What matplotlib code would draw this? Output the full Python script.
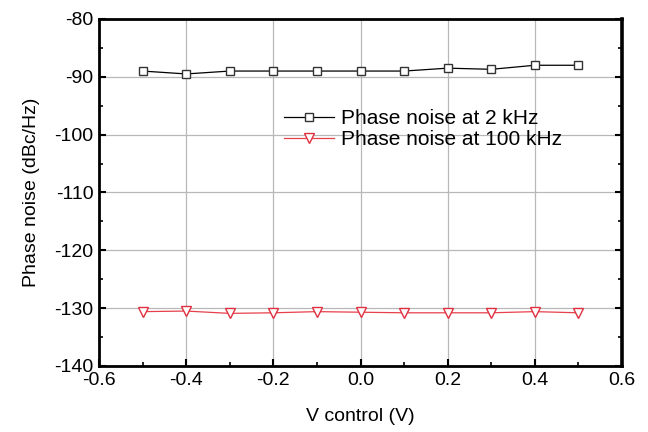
import numpy as np
import matplotlib.pyplot as plt

plt.rcParams['font.family'] = ['Liberation Sans', 'DejaVu Sans']
plt.rcParams['axes.unicode_minus'] = False

# control voltage sweep (V)
v_control = [-0.5, -0.4, -0.3, -0.2, -0.1, 0.0, 0.1, 0.2, 0.3, 0.4, 0.5]
# phase noise (dBc/Hz) at two offsets
pn_2k = [-89.0, -89.5, -89.0, -89.0, -89.0, -89.0, -89.0, -88.5, -88.7, -88.0, -88.0]
pn_100k = [-130.6, -130.5, -130.9, -130.8, -130.6, -130.7, -130.8, -130.8, -130.8, -130.6, -130.8]

xticks = [-0.6, -0.4, -0.2, 0.0, 0.2, 0.4, 0.6]
yticks = [-140, -130, -120, -110, -100, -90, -80]

fig = plt.figure(figsize=(6.48, 4.32), dpi=100)
ax = fig.add_axes([99/648, 1 - 366/432, 523/648, 347/432])

ax.plot(v_control, pn_2k, color='black', lw=0.9, marker='s', ms=6,
        mfc='white', mec='#333333', mew=1.0, label='Phase noise at 2 kHz', zorder=3)
ax.plot(v_control, pn_100k, color='#e8404a', lw=0.9, marker='v', ms=7,
        mfc='white', mec='#e03040', mew=1.0, label='Phase noise at 100 kHz', zorder=3)

ax.set_xlim(-0.6, 0.6)
ax.set_ylim(-140, -80)
ax.set_xticks(xticks)
ax.set_yticks(yticks)
ax.set_xticklabels([f'{t:.1f}' for t in xticks])
ax.set_xticks(np.arange(-0.5, 0.6, 0.2), minor=True)
ax.set_yticks(np.arange(-135, -80, 10), minor=True)

ax.grid(True, which='major', color='#b8b8b8', lw=0.9)
ax.set_axisbelow(True)

ax.tick_params(which='both', direction='in', top=False, right=True, labelsize=14, pad=4)
ax.tick_params(which='major', length=5, width=1.5)
ax.tick_params(which='minor', length=3, width=1.2)
for side in ['left', 'bottom', 'top']:
    ax.spines[side].set_linewidth(2.0)
ax.spines['right'].set_linewidth(2.6)

ax.set_xlabel('V control (V)', fontsize=14, labelpad=14)
ax.set_ylabel('Phase noise (dBc/Hz)', fontsize=14, labelpad=10)

ax.legend(loc='upper left', bbox_to_anchor=(0.338, 0.765), frameon=False, fontsize=15,
          handlelength=2.4, handletextpad=0.35, labelspacing=0.1, borderaxespad=0)

fig.savefig('out.png', dpi=100)
